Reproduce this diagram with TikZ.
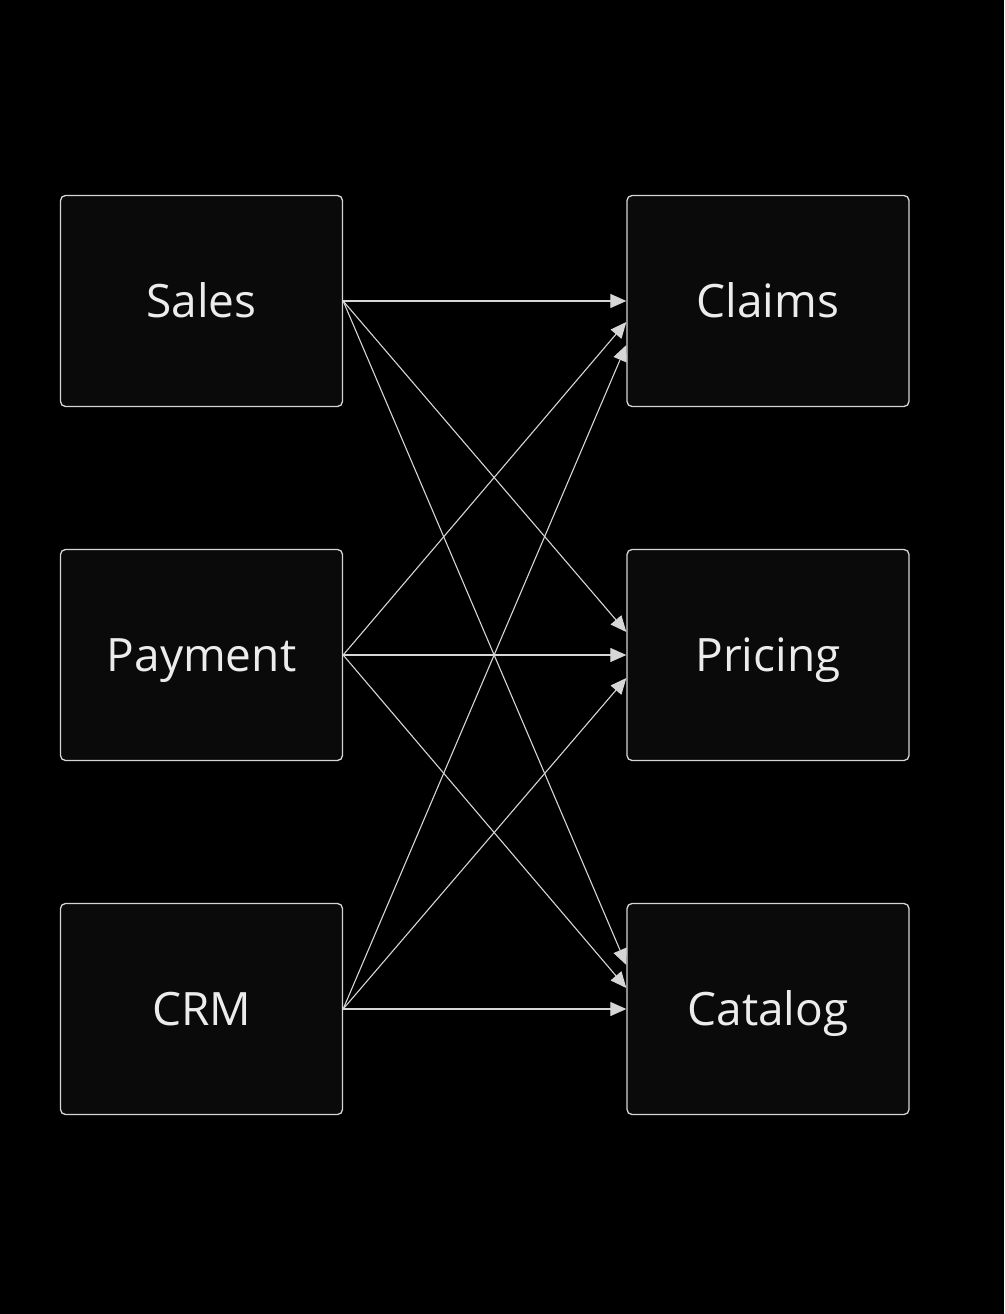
\documentclass[tikz,border=0pt]{standalone}
\usepackage{fontspec}
\setmainfont{Open Sans}
\usetikzlibrary{arrows.meta}
\definecolor{bg}{HTML}{000000}
\definecolor{boxfill}{HTML}{0A0A0A}
\definecolor{edge}{HTML}{D6D6D6}
\definecolor{txt}{HTML}{ECECEC}
\tikzset{
  card/.style={draw=edge, line width=1.3pt, fill=boxfill, rounded corners=5pt,
    minimum width=282pt, minimum height=211pt, inner sep=0pt,
    text height=32.8pt, text depth=0pt,
    text=txt, font=\fontsize{46}{54}\selectfont},
  link/.style={draw=edge, line width=1.1pt, -{Triangle[length=16pt,width=14pt]}},
}
\begin{document}
\begin{tikzpicture}[x=1pt,y=-1pt]
\fill[bg] (0,0) rectangle (1004,1314);
\useasboundingbox (0,0) rectangle (1004,1314);
\node[card] (sales) at (201.5,301) {Sales};
\node[card] (payment) at (201.5,655) {Payment};
\node[card] (crm) at (201.5,1009) {CRM};
\node[card] (claims) at (768,301) {Claims};
\node[card] (pricing) at (768,655) {Pricing};
\node[card] (catalog) at (768,1009) {Catalog};
\draw[link] (sales.east) -- (claims.west);
\draw[link] (sales.east) -- ([yshift=23pt]pricing.west);
\draw[link] (sales.east) -- ([yshift=44pt]catalog.west);
\draw[link] (payment.east) -- ([yshift=-21pt]claims.west);
\draw[link] (payment.east) -- (pricing.west);
\draw[link] (payment.east) -- ([yshift=21pt]catalog.west);
\draw[link] (crm.east) -- ([yshift=-44pt]claims.west);
\draw[link] (crm.east) -- ([yshift=-23pt]pricing.west);
\draw[link] (crm.east) -- (catalog.west);
\end{tikzpicture}
\end{document}
